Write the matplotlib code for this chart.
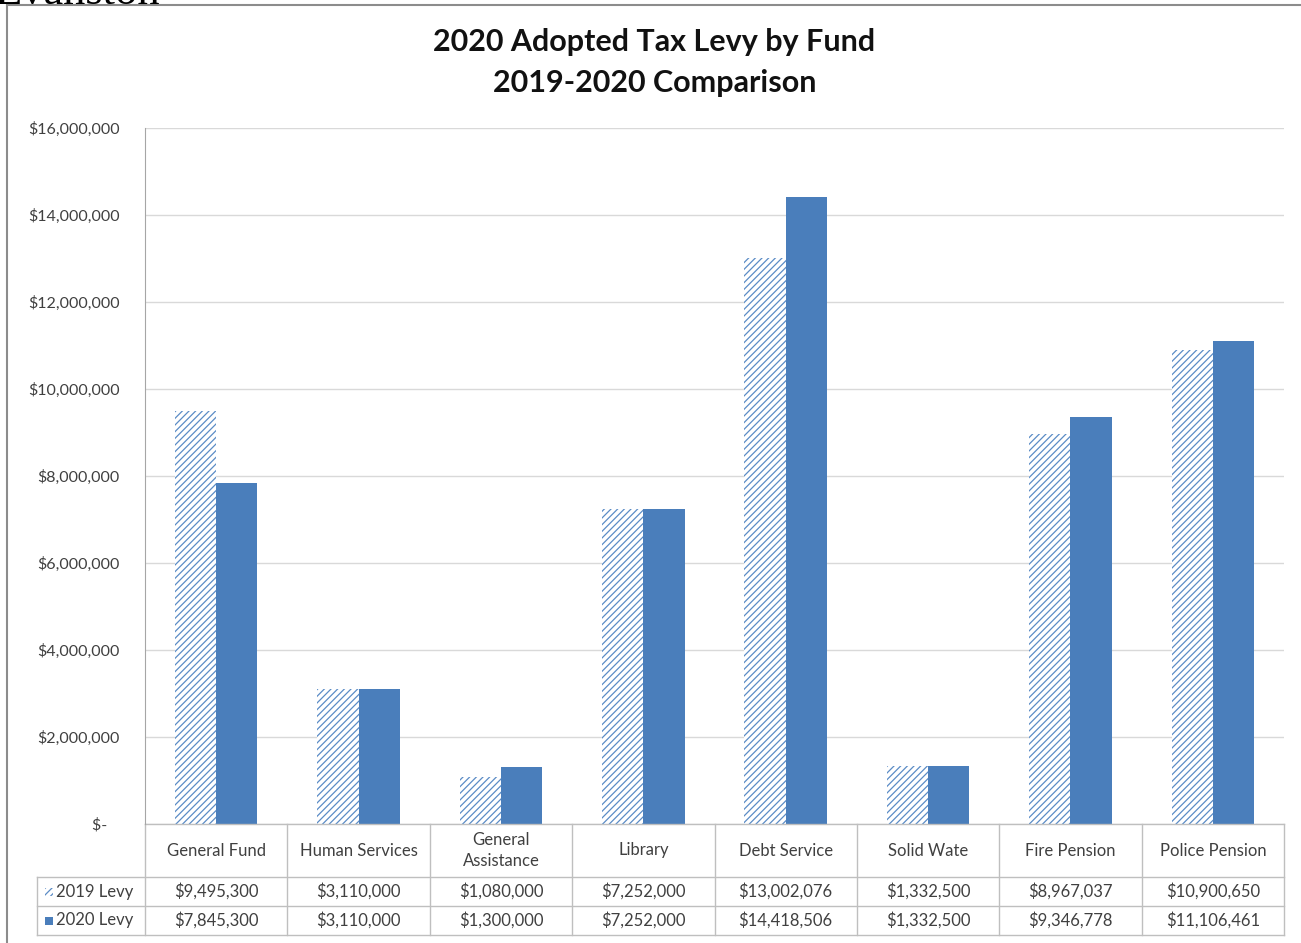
import numpy as np
import matplotlib.pyplot as plt
from matplotlib.patches import Rectangle
from matplotlib.lines import Line2D

funds = ["General Fund", "Human Services", "General\nAssistance", "Library",
         "Debt Service", "Solid Wate", "Fire Pension", "Police Pension"]
levy_2019 = [9495300, 3110000, 1080000, 7252000, 13002076, 1332500, 8967037, 10900650]
levy_2020 = [7845300, 3110000, 1300000, 7252000, 14418506, 1332500, 9346778, 11106461]
series_names = ["2019 Levy", "2020 Levy"]
y_ticks = [0, 2000000, 4000000, 6000000, 8000000, 10000000, 12000000, 14000000, 16000000]

BLUE = "#4a7ebb"
HATCH = "#5b8cc6"
GRID = "#d9d9d9"
TABLE_LINE = "#bfbfbf"
TEXT = "#404040"
FONT = "Lato"
plt.rcParams["hatch.linewidth"] = 0.9

W, H = 1301, 943
fig = plt.figure(figsize=(W / 100, H / 100), dpi=100)

# plot area in pixels
left, right, top, bottom = 145, 1284, 128, 824
ax = fig.add_axes([left / W, 1 - bottom / H, (right - left) / W, (bottom - top) / H])

x = np.arange(len(funds))
bw = 0.29
ax.bar(x - bw / 2, levy_2019, bw, facecolor="white", edgecolor=HATCH, hatch="/////", linewidth=0)
ax.bar(x + bw / 2, levy_2020, bw, color=BLUE, linewidth=0)

ax.set_xlim(-0.5, len(funds) - 0.5)
ax.set_ylim(0, 16000000)
ax.set_yticks(y_ticks)
ax.set_yticklabels(["$-   "] + [f"${v:,.0f}" for v in y_ticks[1:]],
                   fontsize=11.5, color=TEXT, family=FONT)
ax.tick_params(axis="y", length=0, pad=18)
ax.set_xticks([])
ax.grid(axis="y", color=GRID, linewidth=1)
ax.set_axisbelow(True)
for s in ["top", "right", "bottom"]:
    ax.spines[s].set_visible(False)
ax.spines["left"].set_color("#a6a6a6")

# data table under the plot
px = (bottom - top)  # axes height in pixels
def ay(pix):
    return (bottom - pix) / px

rows_y = [824, 877, 906, 935]
xt = ax.get_xaxis_transform()
for k in range(len(funds) + 1):
    ax.plot([k - 0.5, k - 0.5], [ay(rows_y[0]), ay(rows_y[-1])], color=TABLE_LINE,
            lw=1, transform=xt, clip_on=False)
lab_left = (37 - left) / (right - left)
for i, yy in enumerate(rows_y):
    x0 = 0 if i == 0 else lab_left
    ax.plot([x0, 1], [ay(yy), ay(yy)], color=TABLE_LINE, lw=1,
            transform=ax.transAxes, clip_on=False)
ax.plot([lab_left, lab_left], [ay(rows_y[1]), ay(rows_y[-1])], color=TABLE_LINE, lw=1,
        transform=ax.transAxes, clip_on=False)

for i, name in enumerate(funds):
    ax.text(i, ay((rows_y[0] + rows_y[1]) / 2), name, transform=xt, ha="center", va="center",
            fontsize=12, color=TEXT, family=FONT, linespacing=1.45)
    for r, vals in enumerate([levy_2019, levy_2020]):
        ax.text(i, ay((rows_y[r + 1] + rows_y[r + 2]) / 2), f"${vals[i]:,.0f}", transform=xt,
                ha="center", va="center", fontsize=12, color=TEXT, family=FONT)

# legend keys in the row label column
for r, name in enumerate(series_names):
    yc = ay((rows_y[r + 1] + rows_y[r + 2]) / 2)
    kx = (45 - left) / (right - left)
    kw = 8 / (right - left)
    kh = 8 / px
    if r == 0:
        key = Rectangle((kx, yc - kh / 2), kw, kh, facecolor="white", edgecolor=HATCH,
                        hatch="/////", lw=0, transform=ax.transAxes, clip_on=False)
    else:
        key = Rectangle((kx, yc - kh / 2), kw, kh, facecolor=BLUE, lw=0,
                        transform=ax.transAxes, clip_on=False)
    ax.add_patch(key)
    ax.text(kx + kw + 3 / (right - left), yc, name, transform=ax.transAxes, ha="left",
            va="center", fontsize=12, color=TEXT, family=FONT)

fig.text(0.503, 1 - 42 / H, "2020 Adopted Tax Levy by Fund", ha="center", va="center",
         fontsize=22, fontweight="bold", family=FONT, color="#111111")
fig.text(0.503, 1 - 83 / H, "2019-2020 Comparison", ha="center", va="center",
         fontsize=22, fontweight="bold", family=FONT, color="#111111")

# chart frame and cut-off page heading
fig.add_artist(Line2D([7 / W, 7 / W], [0, 1 - 5 / H], color="#8c8c8c", lw=1.5))
fig.add_artist(Line2D([7 / W, 1], [1 - 5 / H, 1 - 5 / H], color="#8c8c8c", lw=1.5))
fig.text(-0.004, 1 - 4 / H, "Evanston", ha="left", va="baseline", fontsize=32,
         family="Liberation Serif", color="black")

fig.savefig("out.png", dpi=100)
